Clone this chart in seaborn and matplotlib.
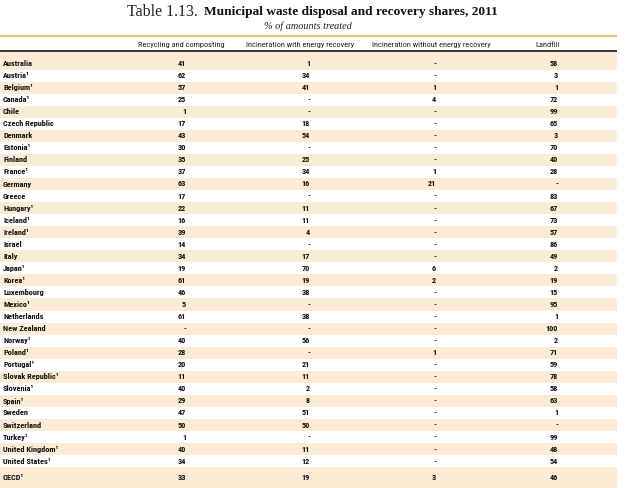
import matplotlib
matplotlib.use("Agg")
import matplotlib.pyplot as plt
import seaborn as sns
import numpy as np
from matplotlib import font_manager
from matplotlib.font_manager import FontProperties

sns.set_style("white")

countries = ["Australia", "Austria", "Belgium", "Canada", "Chile", "Czech Republic",
             "Denmark", "Estonia", "Finland", "France", "Germany", "Greece", "Hungary",
             "Iceland", "Ireland", "Israel", "Italy", "Japan", "Korea", "Luxembourg",
             "Mexico", "Netherlands", "New Zealand", "Norway", "Poland", "Portugal",
             "Slovak Republic", "Slovenia", "Spain", "Sweden", "Switzerland", "Turkey",
             "United Kingdom", "United States", "OECD"]
footnote = [0, 1, 1, 1, 0, 0, 0, 1, 0, 1, 0, 0, 1, 1, 1, 0, 0, 1, 1, 0,
            1, 0, 0, 1, 1, 1, 1, 1, 1, 0, 0, 1, 1, 1, 1]
# None = "-"
recycling = [41, 62, 57, 25, 1, 17, 43, 30, 35, 37, 63, 17, 22, 16, 39, 14, 34, 19, 61, 46,
             5, 61, None, 40, 28, 20, 11, 40, 29, 47, 50, 1, 40, 34, 33]
incin_energy = [1, 34, 41, None, None, 18, 54, None, 25, 34, 16, None, 11, 11, 4, None, 17, 70, 19, 38,
                None, 38, None, 56, None, 21, 11, 2, 8, 51, 50, None, 11, 12, 19]
incin_no_energy = [None, None, 1, 4, None, None, None, None, None, 1, 21, None, None, None, None, None,
                   None, 6, 2, None, None, None, None, None, 1, None, None, None, None, None, None,
                   None, None, None, 3]
landfill = [58, 3, 1, 72, 99, 65, 3, 70, 40, 28, None, 83, 67, 73, 57, 86, 49, 2, 19, 15,
            95, 1, 100, 2, 71, 59, 78, 58, 63, 1, None, 99, 48, 54, 46]
col_headers = ["Recycling and composting", "Incineration with energy recovery",
               "Incineration without energy recovery", "Landfill"]
title_a = "Table 1.13."
title_b = "Municipal waste disposal and recovery shares, 2011"
subtitle = "% of amounts treated"


def stretch_val(s):
    if isinstance(s, (int, float)):
        return s
    m = {"ultra-condensed": 100, "extra-condensed": 200, "condensed": 300,
         "semi-condensed": 400, "normal": 500}
    return m.get(str(s).lower(), 500)


def weight_val(w):
    if isinstance(w, (int, float)):
        return w
    return font_manager.weight_dict.get(str(w).lower(), 400)


def find_condensed(weight):
    prio = ["liberation sans narrow", "roboto condensed", "noto sans", "dejavu sans",
            "open sans", "open sans condensed", "lato", "inter"]
    best, best_score = None, None
    for f in font_manager.fontManager.ttflist:
        nm = f.name.lower()
        if "mono" in nm or "serif" in nm or "cjk" in nm:
            continue
        fl = f.fname.lower()
        cond = ("narrow" in nm or "condensed" in nm or stretch_val(f.stretch) < 500
                or "condensed" in fl or "narrow" in fl)
        if not cond or f.style != "normal":
            continue
        p = prio.index(nm) if nm in prio else len(prio)
        pen_semi = 1 if "semicondensed" in fl or "extracondensed" in fl else 0
        sc = (p, pen_semi, abs(weight_val(f.weight) - weight))
        if best_score is None or sc < best_score:
            best, best_score = f, sc
    return best


fb = find_condensed(700)
fr = find_condensed(400)


def fp(entry, fallback_weight, size):
    if entry is not None:
        return FontProperties(fname=entry.fname, size=size)
    return FontProperties(family="Liberation Sans", weight=fallback_weight, size=size)


serif = "Liberation Serif"

W, H = 626, 488
fig = plt.figure(figsize=(W / 100, H / 100), dpi=100)
ax = fig.add_axes([0, 0, 1, 1])
ax.set_xlim(0, W)
ax.set_ylim(H, 0)
ax.axis("off")
renderer = fig.canvas.get_renderer()


def size_for(prop_fn, sample, target_w, base=6.0):
    t = ax.text(0, 0, sample, fontproperties=prop_fn(base))
    w = t.get_window_extent(renderer).width
    t.remove()
    return base * target_w / w


body_size = size_for(lambda s: fp(fb, "bold", s), "Czech Republic", 51)
hdr_size = size_for(lambda s: fp(fr, "normal", s), "Incineration without energy recovery", 119)

band = "#fdebd6"
x0, x1 = 0, 617
row_h = 12.05
first_c = 63.5
n = len(countries)
centers = [first_c + i * row_h for i in range(n - 1)] + [first_c + (n - 2) * row_h + 16.5]

for i, c in enumerate(centers):
    if i % 2 == 0:
        if i == n - 1:
            top, bot = c - 10.5, H
        elif i == 0:
            top, bot = 52, c + row_h / 2
        else:
            top, bot = c - row_h / 2, c + row_h / 2
        ax.fill_between([x0, x1], top, bot, color=band, lw=0, zorder=0)

# rules
ax.plot([x0, x1], [35.5, 35.5], color="#e8c27e", lw=1.6, solid_capstyle="butt")
ax.plot([x0, x1], [51.3, 51.3], color="black", lw=1.1, solid_capstyle="butt")


def fit_text(x, y, s, target_w, **kw):
    t = ax.text(x, y, s, **kw)
    w = t.get_window_extent(renderer).width
    t.set_fontsize(t.get_fontsize() * target_w / w)
    return t


# title
fit_text(127, 12.5, title_a, 71, family=serif, fontsize=8.6, va="center", ha="left", color="#222222")
fit_text(204, 12.5, title_b, 293, family=serif, fontsize=8.6, fontweight="bold", va="center",
         ha="left", color="#111111")
fit_text(308, 26.5, subtitle, 88, family=serif, fontsize=6.2, style="italic", va="center",
         ha="center", color="#222222")

hdr_x = [181, 300, 431, 548]
for hx, h in zip(hdr_x, col_headers):
    ax.text(hx, 45, h, fontproperties=fp(fr, "normal", hdr_size), va="center", ha="center",
            color="#222222")

col_right = [186, 310, 436, 558]
cols = [recycling, incin_energy, incin_no_energy, landfill]
for i, (name, c) in enumerate(zip(countries, centers)):
    lab = name + ("\u00b9" if footnote[i] else "")
    ax.text(3, c, lab, fontproperties=fp(fb, "bold", body_size), va="center", ha="left",
            color="#111111")
    for xr, col in zip(col_right, cols):
        v = col[i]
        s = "-" if v is None else str(v)
        ax.text(xr, c, s, fontproperties=fp(fb, "bold", body_size), va="center", ha="right",
                color="#111111")

fig.savefig("out.png", dpi=100)
